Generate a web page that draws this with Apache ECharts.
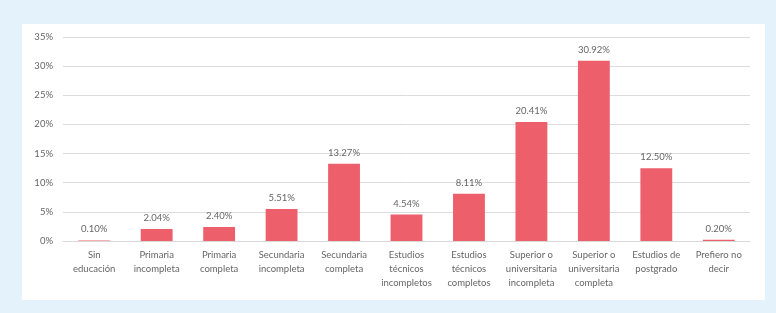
<!DOCTYPE html>
<html>
<head>
<meta charset="utf-8">
<script src="https://cdn.jsdelivr.net/npm/echarts@6/dist/echarts.min.js"></script>
<style>
  html, body { margin: 0; padding: 0; background: #e4f3fb; }
  .panel { position: absolute; left: 22px; top: 24px; width: 743px; height: 276px; background: #fff; }
  .chart { position: absolute; left: 0; top: 0; width: 776px; height: 313px; }
</style>
</head>
<body>
<div class="panel"></div>
<div class="chart" id="chart"></div>
<script>
const categories = [
  "Sin\neducación",
  "Primaria\nincompleta",
  "Primaria\ncompleta",
  "Secundaria\nincompleta",
  "Secundaria\ncompleta",
  "Estudios\ntécnicos\nincompletos",
  "Estudios\ntécnicos\ncompletos",
  "Superior o\nuniversitaria\nincompleta",
  "Superior o\nuniversitaria\ncompleta",
  "Estudios de\npostgrado",
  "Prefiero no\ndecir"
];
const values = [0.10, 2.04, 2.40, 5.51, 13.27, 4.54, 8.11, 20.41, 30.92, 12.50, 0.20];

let chart = echarts.init(document.getElementById("chart"));
let option = {
  animation: false,
  textStyle: { fontFamily: "Lato" },
  grid: { left: 63, right: 26, top: 37, bottom: 72 },
  xAxis: {
    type: "category",
    data: categories,
    axisLine: { lineStyle: { color: "#d9d9d9" } },
    axisTick: { show: false },
    axisLabel: {
      interval: 0,
      color: "#666",
      fontSize: 9.5,
      lineHeight: 14,
      margin: 7
    }
  },
  yAxis: {
    type: "value",
    min: 0,
    max: 35,
    interval: 5,
    axisLine: { show: false },
    axisTick: { show: false },
    splitLine: { lineStyle: { color: "#dcdcdc" } },
    axisLabel: {
      color: "#666",
      fontSize: 9.5,
      margin: 10,
      formatter: "{value}%"
    }
  },
  series: [
    {
      type: "bar",
      data: values,
      barWidth: "51%",
      itemStyle: { color: "#ee5f6c" },
      label: {
        show: true,
        position: "top",
        distance: 6,
        color: "#666",
        fontSize: 9.5,
        formatter: (p) => p.value.toFixed(2) + "%"
      }
    }
  ]
};
chart.setOption(option);
</script>
</body>
</html>
